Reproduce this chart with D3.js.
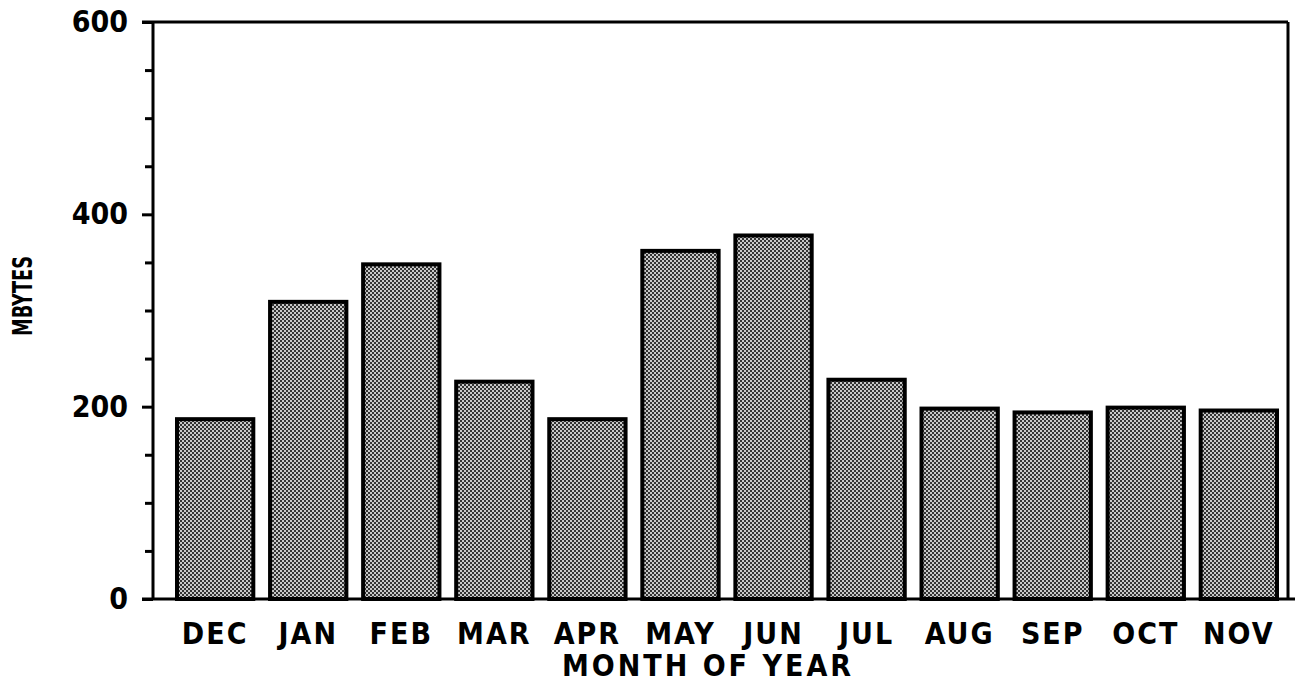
<!DOCTYPE html>
<html>
<head>
<meta charset="utf-8">
<script src="https://cdn.jsdelivr.net/npm/d3@7/dist/d3.min.js"></script>
<style>
  html, body { margin: 0; padding: 0; background: #fff; }
  svg text { font-family: "DejaVu Sans Condensed", "DejaVu Sans", sans-serif; font-weight: bold; fill: #000; }
</style>
</head>
<body>
<svg id="chart" width="1295" height="692"></svg>
<script>
const months = ["DEC","JAN","FEB","MAR","APR","MAY","JUN","JUL","AUG","SEP","OCT","NOV"];
const mbytes = [187, 309, 348, 226, 187, 362, 378, 228, 198, 194, 199, 196];
const yTicks = [0, 200, 400, 600];
const yMinorTicks = [50, 100, 150, 250, 300, 350, 450, 500, 550];
const xTitle = "MONTH OF YEAR";
const yTitle = "MBYTES";

const svg = d3.select("#chart");
const mLeft = 153, mRight = 1288, mTop = 22, mBottom = 599;

const defs = svg.append("defs");
const pat = defs.append("pattern").attr("id", "halftone")
  .attr("width", 4).attr("height", 4).attr("patternUnits", "userSpaceOnUse");
pat.append("rect").attr("width", 4).attr("height", 4).attr("fill", "#c8c8c8");
pat.append("rect").attr("x", 0).attr("y", 0).attr("width", 2).attr("height", 2).attr("fill", "#333");
pat.append("rect").attr("x", 2).attr("y", 2).attr("width", 2).attr("height", 2).attr("fill", "#333");

const x = d3.scaleBand().domain(months).range([177, 1277]).paddingInner(0.18).paddingOuter(0);
const y = d3.scaleLinear().domain([0, 600]).range([mBottom, mTop]);

// bars
svg.append("g").selectAll("rect").data(months).join("rect")
  .attr("x", d => x(d))
  .attr("width", x.bandwidth())
  .attr("y", (d, i) => y(mbytes[i]))
  .attr("height", (d, i) => y(0) - y(mbytes[i]))
  .attr("fill", "url(#halftone)")
  .attr("stroke", "#000")
  .attr("stroke-width", 4);

// frame: top and right
svg.append("line").attr("x1", mLeft - 11).attr("x2", mRight).attr("y1", mTop).attr("y2", mTop)
  .attr("stroke", "#000").attr("stroke-width", 3);
svg.append("line").attr("x1", mRight).attr("x2", mRight).attr("y1", mTop).attr("y2", mBottom)
  .attr("stroke", "#000").attr("stroke-width", 3);

// y axis
const yAxis = d3.axisLeft(y).tickValues(yTicks).tickSize(11).tickPadding(14).tickFormat(d3.format("d"));
const gy = svg.append("g").attr("transform", `translate(${mLeft},0)`).call(yAxis);
gy.select(".domain").attr("stroke-width", 3).attr("d", `M0,${mTop}V${mBottom}`);
gy.selectAll(".tick line").attr("stroke-width", 3);
gy.selectAll(".tick text").attr("font-size", 30).attr("font-family", "DejaVu Sans Condensed, DejaVu Sans, sans-serif").attr("font-weight", "bold");
const gym = svg.append("g").attr("transform", `translate(${mLeft},0)`)
  .call(d3.axisLeft(y).tickValues(yMinorTicks).tickSize(8).tickFormat(""));
gym.select(".domain").remove();
gym.selectAll(".tick line").attr("stroke-width", 3);

// x axis (baseline)
const xAxis = d3.axisBottom(x).tickSize(0).tickPadding(24);
const gx = svg.append("g").attr("transform", `translate(0,${mBottom})`).call(xAxis);
gx.select(".domain").remove();
gx.selectAll(".tick text").attr("font-size", 30).attr("font-family", "DejaVu Sans Condensed, DejaVu Sans, sans-serif").attr("font-weight", "bold").attr("letter-spacing", 2);
svg.append("line").attr("x1", mLeft - 11).attr("x2", 1295).attr("y1", mBottom).attr("y2", mBottom)
  .attr("stroke", "#000").attr("stroke-width", 3);

// titles
svg.append("text").attr("x", 708).attr("y", 676).attr("text-anchor", "middle")
  .attr("font-size", 30).attr("letter-spacing", 3).text(xTitle);
svg.append("text").attr("transform", "translate(32,296) rotate(-90)").attr("text-anchor", "middle")
  .attr("font-size", 27).attr("textLength", 80).attr("lengthAdjust", "spacingAndGlyphs").text(yTitle);
</script>
</body>
</html>
